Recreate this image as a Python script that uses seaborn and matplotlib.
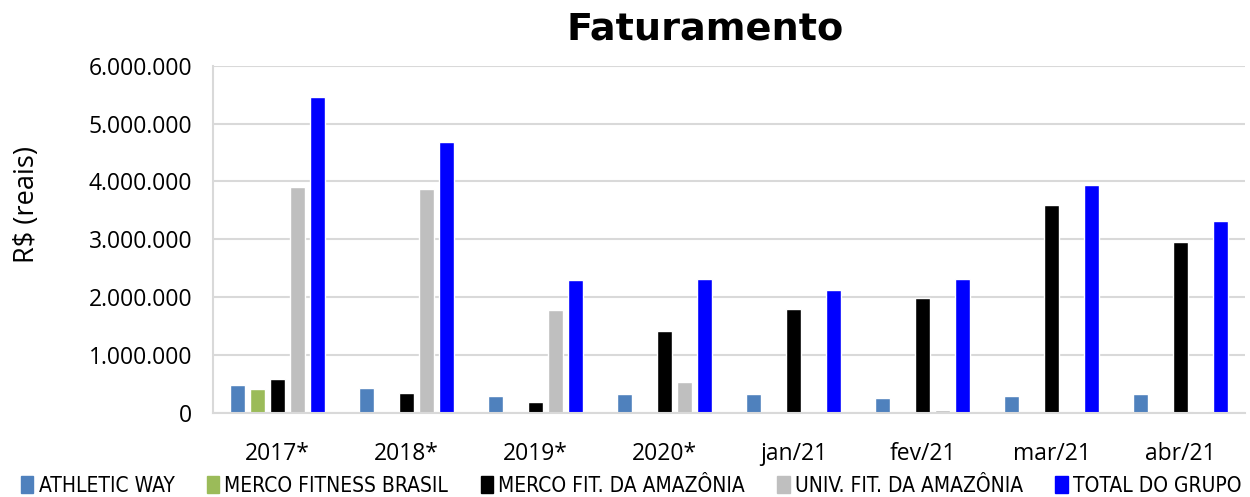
import numpy as np
import pandas as pd
import matplotlib
matplotlib.use("Agg")
import matplotlib.pyplot as plt
import seaborn as sns
from matplotlib.ticker import FuncFormatter

# dados (R$)
periodos = ["2017*", "2018*", "2019*", "2020*", "jan/21", "fev/21", "mar/21", "abr/21"]
series = ["ATHLETIC WAY", "MERCO FITNESS BRASIL", "MERCO FIT. DA AMAZÔNIA",
          "UNIV. FIT. DA AMAZÔNIA", "TOTAL DO GRUPO"]
athletic_way = [480000, 430000, 290000, 330000, 320000, 260000, 300000, 320000]
merco_fitness_brasil = [420000, np.nan, np.nan, np.nan, np.nan, np.nan, np.nan, np.nan]
merco_fit_amazonia = [590000, 350000, 190000, 1420000, 1800000, 1990000, 3590000, 2950000]
univ_fit_amazonia = [3910000, 3870000, 1780000, 540000, np.nan, 60000, 8000, 30000]
total_grupo = [5460000, 4680000, 2290000, 2310000, 2130000, 2320000, 3930000, 3320000]
cores = ["#4f81bd", "#9bbb59", "#000000", "#bfbfbf", "#0000ff"]

df = pd.DataFrame({
    "periodo": periodos * 5,
    "serie": np.repeat(series, len(periodos)),
    "valor": athletic_way + merco_fitness_brasil + merco_fit_amazonia + univ_fit_amazonia + total_grupo,
})

sns.set_style("white")
plt.rcParams["font.family"] = ["Open Sans", "DejaVu Sans"]
plt.rcParams["text.color"] = "black"
plt.rcParams["xtick.color"] = "black"
plt.rcParams["ytick.color"] = "black"
plt.rcParams["axes.labelcolor"] = "black"

fig = plt.figure(figsize=(12.5, 4.97), dpi=100)
ax = fig.add_axes([0.1704, 0.169, 0.8256, 0.699])

sns.barplot(data=df, x="periodo", y="valor", hue="serie", order=periodos,
            hue_order=series, palette=cores, width=0.775, gap=0.22,
            saturation=1, legend=False, ax=ax)

ax.set_ylim(0, 6000000)
ax.set_yticks(np.arange(0, 6000001, 1000000))
ax.yaxis.set_major_formatter(FuncFormatter(lambda v, p: f"{int(v):,}".replace(",", ".")))
ax.yaxis.grid(True, color="#d9d9d9", linewidth=1.5)
ax.set_axisbelow(True)
ax.set_xlim(-0.5, len(periodos) - 0.5)
ax.set_xticks(np.arange(-0.5, len(periodos), 1), minor=True)
ax.tick_params(axis="x", which="major", length=0, labelsize=16.5, pad=21)
ax.tick_params(axis="x", which="minor", length=7, color="#d9d9d9", width=1.5)
ax.tick_params(axis="y", labelsize=16.5, length=6, color="#d9d9d9", width=1.5, pad=9,
               labelcolor="black")

for s in ["top", "right"]:
    ax.spines[s].set_visible(False)
ax.spines["left"].set_color("#d9d9d9")
ax.spines["left"].set_linewidth(1.5)
ax.spines["bottom"].set_color("#d9d9d9")
ax.spines["bottom"].set_linewidth(1.5)

ax.set_xlabel("")
ax.set_ylabel("R$ (reais)", fontsize=19.5)
ax.yaxis.set_label_coords(-0.167, 0.6)
fig.text(0.564, 0.92, "Faturamento", ha="center", va="baseline", fontsize=27.5,
         fontweight="bold", family="DejaVu Sans")

handles = [plt.Rectangle((0, 0), 1, 1, color=c) for c in cores]
fig.legend(handles, series, loc="lower center", bbox_to_anchor=(0.505, -0.035),
           ncol=5, frameon=False, handlelength=0.6, handleheight=0.9,
           handletextpad=0.25, columnspacing=1.55,
           prop={"family": "DejaVu Sans", "stretch": "condensed", "size": 15})

fig.savefig("out.png", dpi=100)
